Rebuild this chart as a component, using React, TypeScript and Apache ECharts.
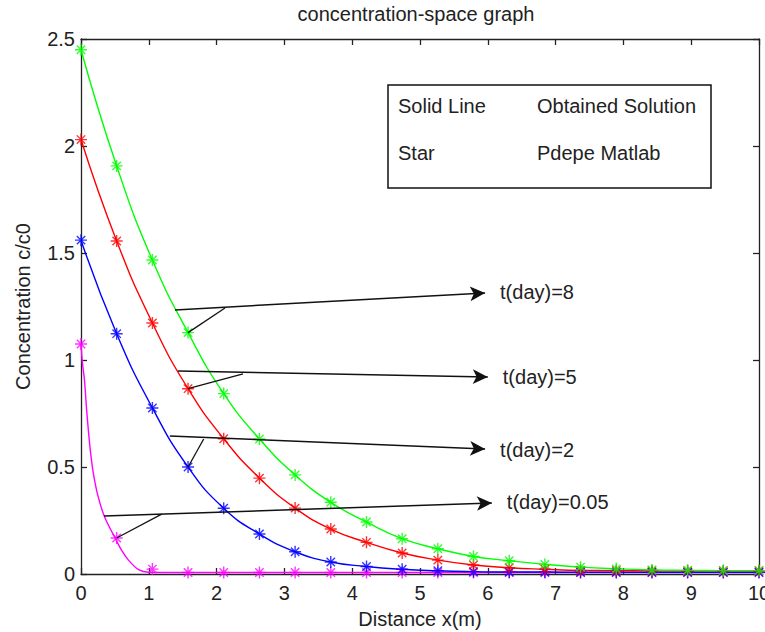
import React, { useEffect, useRef } from "react";
import * as echarts from "echarts";

// Star-marker x positions (Pdepe Matlab mesh)
const xStar = [0, 0.526, 1.053, 1.579, 2.105, 2.632, 3.158, 3.684, 4.211, 4.737, 5.263, 5.789, 6.316, 6.842, 7.368, 7.895, 8.421, 8.947, 9.474, 10];

// t = 8 days (green)
const t8 = [2.45, 1.907, 1.467, 1.128, 0.843, 0.631, 0.463, 0.335, 0.243, 0.165, 0.118, 0.082, 0.062, 0.045, 0.032, 0.024, 0.019, 0.017, 0.016, 0.016];
// t = 5 days (red)
const t5 = [2.03, 1.556, 1.173, 0.866, 0.632, 0.448, 0.308, 0.21, 0.148, 0.098, 0.065, 0.042, 0.029, 0.022, 0.017, 0.016, 0.015, 0.015, 0.015, 0.015];
// t = 2 days (blue)
const t2 = [1.56, 1.123, 0.776, 0.5, 0.307, 0.187, 0.104, 0.056, 0.035, 0.022, 0.015, 0.011, 0.009, 0.009, 0.008, 0.008, 0.008, 0.008, 0.008, 0.008];
// t = 0.05 days (magenta) stars
const t005 = [1.075, 0.168, 0.023, 0.007, 0.007, 0.007, 0.007, 0.007, 0.007, 0.007, 0.007, 0.007, 0.007, 0.007, 0.007, 0.007, 0.007, 0.007, 0.007, 0.007];
// t = 0.05 days obtained solution (magenta line), read at finer x
const magX = [0, 0.02, 0.05, 0.085, 0.13, 0.18, 0.25, 0.35, 0.5, 0.6, 0.7, 0.85, 1.0, 1.5, 2, 4, 6, 8, 10];
const magY = [1.075, 0.99, 0.91, 0.76, 0.6, 0.475, 0.365, 0.265, 0.17, 0.11, 0.065, 0.02, 0.008, 0.007, 0.007, 0.007, 0.007, 0.007, 0.007];

const xTicks = [0, 1, 2, 3, 4, 5, 6, 7, 8, 9, 10];
const yTicks = [0, 0.5, 1, 1.5, 2, 2.5];

// Annotation arrows (data coordinates): start, tip, label; callout: knee -> star
const arrowLabels = ["t(day)=8", "t(day)=5", "t(day)=2", "t(day)=0.05"];
const arrowStart = [[1.386, 1.234], [1.43, 0.949], [1.31, 0.645], [0.34, 0.271]];
const arrowTip = [[5.96, 1.313], [6.0, 0.921], [5.96, 0.584], [6.06, 0.332]];
const calloutKnee = [[2.124, 1.243], [2.39, 0.935], [1.81, 0.631], [1.19, 0.28]];
const calloutEnd = [[1.579, 1.128], [1.579, 0.866], [1.579, 0.5], [0.526, 0.168]];

const FONT = "Liberation Sans, Arial, sans-serif";
const FS = 20;
const STAR = "path://M0,-10L0,10M-10,0L10,0M-7,-7L7,7M-7,7L7,-7";
const AX = "#222";

function starSeries(name: string, ys: number[], color: string, z: number) {
  return {
    name,
    type: "scatter",
    data: xStar.map((x, i) => [x, ys[i]]),
    symbol: STAR,
    symbolSize: 12,
    itemStyle: { color: "none", borderColor: color, borderWidth: 1.4 },
    z,
  };
}

function lineSeries(name: string, xs: number[], ys: number[], color: string, z: number, smooth: number) {
  return {
    name,
    type: "line",
    data: xs.map((x, i) => [x, ys[i]]),
    showSymbol: false,
    smooth,
    lineStyle: { color, width: 1.4 },
    z,
  };
}

export default function App() {
  const ref = useRef<HTMLDivElement>(null);
  useEffect(() => {
    if (!ref.current) return;
    const chart = echarts.init(ref.current, undefined, { renderer: "svg" });
    const axisCommon = {
      type: "value",
      axisLine: { show: true, onZero: false, lineStyle: { color: AX, width: 1.3 } },
      axisTick: { show: true, inside: true, length: 6, lineStyle: { color: AX, width: 1.3 } },
      splitLine: { show: false },
    };
    chart.setOption({
      animation: false,
      backgroundColor: "#fff",
      grid: { left: 81, right: 6, top: 39, bottom: 58, outerBoundsMode: "none", containLabel: false },
      xAxis: [
        {
          ...axisCommon,
          position: "bottom",
          min: 0,
          max: 10,
          interval: 1,
          name: "Distance x(m)",
          nameLocation: "middle",
          nameGap: 35,
          nameTextStyle: { fontFamily: FONT, fontSize: FS, color: AX },
          axisLabel: {
            margin: 9,
            fontFamily: FONT,
            fontSize: FS,
            color: AX,
            customValues: xTicks,
            formatter: (v: number) => String(v),
          },
        },
        {
          ...axisCommon,
          position: "top",
          min: 0,
          max: 10,
          interval: 1,
          axisLabel: { show: false },
        },
      ],
      yAxis: [
        {
          ...axisCommon,
          position: "left",
          min: 0,
          max: 2.5,
          interval: 0.5,
          name: "Concentration c/c0",
          nameLocation: "middle",
          nameGap: 48,
          nameTextStyle: { fontFamily: FONT, fontSize: FS, color: AX },
          axisLabel: {
            margin: 6,
            fontFamily: FONT,
            fontSize: FS,
            color: AX,
            customValues: yTicks,
            formatter: (v: number) => String(v),
          },
        },
        {
          ...axisCommon,
          position: "right",
          min: 0,
          max: 2.5,
          interval: 0.5,
          axisLabel: { show: false },
        },
      ],
      graphic: [
        {
          type: "text",
          x: 416,
          y: 14,
          style: {
            text: "concentration-space graph",
            textAlign: "center",
            textVerticalAlign: "middle",
            font: `${FS}px ${FONT}`,
            fill: AX,
          },
        },
        {
          type: "rect",
          shape: { x: 388, y: 85, width: 323, height: 103 },
          style: { fill: "#fff", stroke: "#111", lineWidth: 1.5 },
          z: 10,
        },
        { type: "text", x: 398, y: 106, z: 11, style: { text: "Solid Line", textVerticalAlign: "middle", font: `${FS}px ${FONT}`, fill: AX } },
        { type: "text", x: 537, y: 106, z: 11, style: { text: "Obtained Solution", textVerticalAlign: "middle", font: `${FS}px ${FONT}`, fill: AX } },
        { type: "text", x: 398, y: 153, z: 11, style: { text: "Star", textVerticalAlign: "middle", font: `${FS}px ${FONT}`, fill: AX } },
        { type: "text", x: 537, y: 153, z: 11, style: { text: "Pdepe Matlab", textVerticalAlign: "middle", font: `${FS}px ${FONT}`, fill: AX } },
      ],
      series: [
        lineSeries("t=0.05 line", magX, magY, "#ff00ff", 2, 0.3),
        lineSeries("t=2 line", xStar, t2, "#0000ff", 2, 0.5),
        lineSeries("t=5 line", xStar, t5, "#ff0000", 2, 0.5),
        lineSeries("t=8 line", xStar, t8, "#00ff00", 2, 0.5),
        starSeries("t=0.05", t005, "#ff00ff", 3),
        starSeries("t=2", t2, "#0000ff", 3),
        starSeries("t=5", t5, "#ff0000", 3),
        starSeries("t=8", t8, "#00ff00", 3),
        {
          name: "arrows",
          type: "line",
          data: [],
          z: 5,
          markLine: {
            silent: true,
            animation: false,
            symbol: ["none", "arrow"],
            symbolSize: [11, 15],
            lineStyle: { color: "#111", width: 1.5, type: "solid" },
            label: {
              show: true,
              position: "end",
              distance: 15,
              fontFamily: FONT,
              fontSize: FS,
              color: AX,
            },
            data: arrowLabels.map((lab, i) => [
              { coord: arrowStart[i] },
              { coord: arrowTip[i], label: { formatter: lab } },
            ]),
          },
        },
        {
          name: "callouts",
          type: "line",
          data: [],
          z: 5,
          markLine: {
            silent: true,
            animation: false,
            symbol: ["none", "none"],
            lineStyle: { color: "#111", width: 1.3, type: "solid" },
            label: { show: false },
            data: calloutKnee.map((k, i) => [{ coord: k }, { coord: calloutEnd[i] }]),
          },
        },
      ],
    });
    return () => chart.dispose();
  }, []);
  return (
    <div
      ref={ref}
      style={{ position: "fixed", left: 0, top: 0, width: 765, height: 632, background: "#fff" }}
    />
  );
}
